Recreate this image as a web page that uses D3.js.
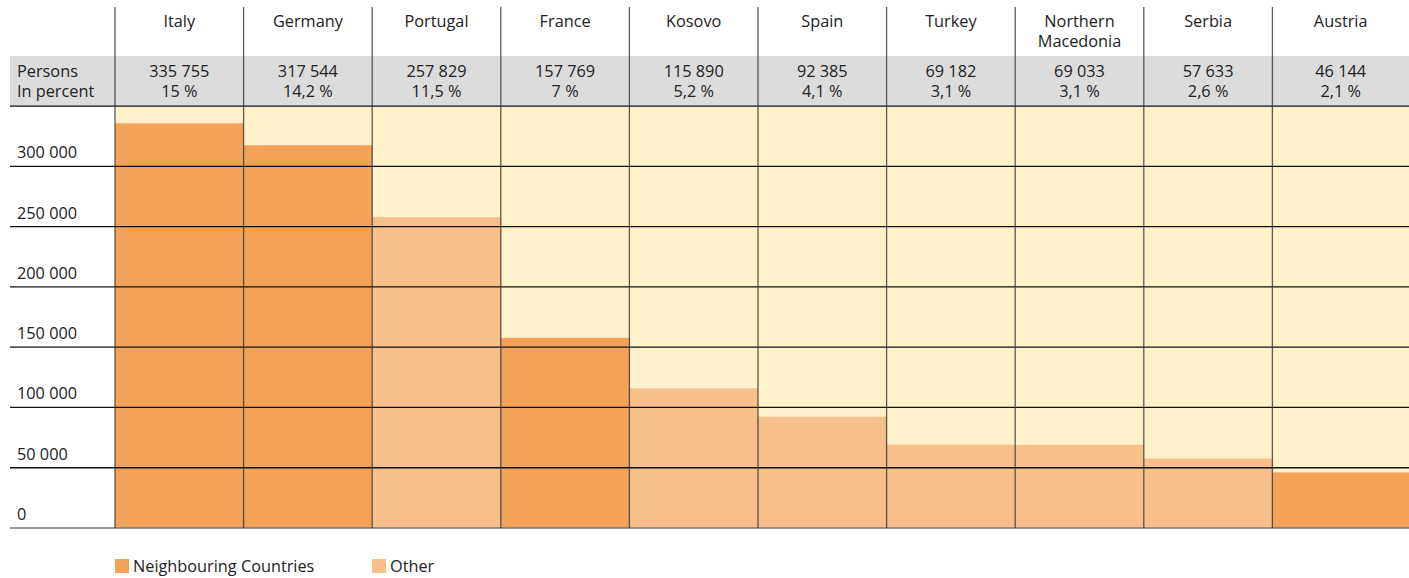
<!DOCTYPE html>
<html><head><meta charset="utf-8">
<script src="https://cdn.jsdelivr.net/npm/d3@7"></script>
<style>body{margin:0;background:#fff;} text{font-family:"Open Sans","Noto Sans",sans-serif;}</style>
</head><body><svg id="c" width="1409" height="578"></svg>
<script>
const countries = ["Italy","Germany","Portugal","France","Kosovo","Spain","Turkey","Northern Macedonia","Serbia","Austria"];
const persons = [335755,317544,257829,157769,115890,92385,69182,69033,57633,46144];
const percents = ["15 %","14,2 %","11,5 %","7 %","5,2 %","4,1 %","3,1 %","3,1 %","2,6 %","2,1 %"];
const groups = ["Neighbouring Countries","Neighbouring Countries","Other","Neighbouring Countries","Other","Other","Other","Other","Other","Neighbouring Countries"];
const legendKeys = ["Neighbouring Countries","Other"];
const yTicks = [0,50000,100000,150000,200000,250000,300000];
const yMax = 350000;

const W = 1409, FS = 16.3;
const svg = d3.select("#c");
const color = d3.scaleOrdinal().domain(legendKeys).range(["#F3A259","#F7BF8A"]);
const x = d3.scaleBand().domain(countries).range([115,1401]).padding(0);
const y = d3.scaleLinear().domain([0,300000]).range([528,166.4]);
const yTop = y(yMax);
const fmt = v => d3.format(",")(v).replace(/,/g," ");
const last = countries[countries.length-1];
const bw = d => d===last ? W - x(d) : x.bandwidth();

// gray band
svg.append("rect").attr("x",10).attr("y",56).attr("width",W-10).attr("height",yTop-56).attr("fill","#DCDCDC");
// plot background
svg.append("rect").attr("x",115).attr("y",yTop).attr("width",W-115).attr("height",y(0)-yTop).attr("fill","#FFF2CB");

// bars
svg.selectAll("rect.bar").data(countries).join("rect").attr("class","bar")
  .attr("x",d=>x(d)).attr("width",bw)
  .attr("y",(d,i)=>y(persons[i])).attr("height",(d,i)=>y(0)-y(persons[i]))
  .attr("fill",(d,i)=>color(groups[i]));

// horizontal gridlines
svg.selectAll("line.h").data(yTicks.filter(t=>t>0)).join("line").attr("class","h")
  .attr("x1",10).attr("x2",W).attr("y1",d=>y(d)).attr("y2",d=>y(d))
  .attr("stroke","#111").attr("stroke-width",1.3);
svg.append("line").attr("x1",10).attr("x2",W).attr("y1",y(0)).attr("y2",y(0))
  .attr("stroke","#777").attr("stroke-width",1.6);
svg.append("line").attr("x1",10).attr("x2",W).attr("y1",yTop).attr("y2",yTop)
  .attr("stroke","#111").attr("stroke-width",1.3);

// vertical lines
const xs = countries.map(c=>x(c));
svg.selectAll("line.v").data(xs).join("line").attr("class","v")
  .attr("x1",d=>d).attr("x2",d=>d).attr("y1",7).attr("y2",y(0))
  .attr("stroke","#333").attr("stroke-opacity",0.8).attr("stroke-width",1.3);

// y labels
svg.selectAll("text.yl").data(yTicks).join("text").attr("class","yl")
  .attr("x",17).attr("y",d=>y(d)-8).attr("font-size",FS).attr("fill","#222").text(d=>fmt(d));

// header country names
countries.forEach((c,i)=>{
  const cx = x(c)+bw(c)/2;
  const lines = c==="Northern Macedonia" ? ["Northern","Macedonia"] : [c];
  lines.forEach((l,j)=>svg.append("text").attr("x",cx).attr("y",27+j*20).attr("text-anchor","middle")
    .attr("font-size",FS).attr("fill","#222").text(l));
  svg.append("text").attr("x",cx).attr("y",77).attr("text-anchor","middle").attr("font-size",FS).attr("fill","#222").text(fmt(persons[i]));
  svg.append("text").attr("x",cx).attr("y",97).attr("text-anchor","middle").attr("font-size",FS).attr("fill","#222").text(percents[i]);
});
svg.append("text").attr("x",17).attr("y",77).attr("font-size",FS).attr("fill","#222").text("Persons");
svg.append("text").attr("x",17).attr("y",97).attr("font-size",FS).attr("fill","#222").text("In percent");

// legend
const lx = [115,372];
legendKeys.forEach((k,i)=>{
  svg.append("rect").attr("x",lx[i]).attr("y",559).attr("width",14).attr("height",14).attr("fill",color(k));
  svg.append("text").attr("x",lx[i]+18).attr("y",572).attr("font-size",FS).attr("fill","#222").text(k);
});
</script></body></html>
